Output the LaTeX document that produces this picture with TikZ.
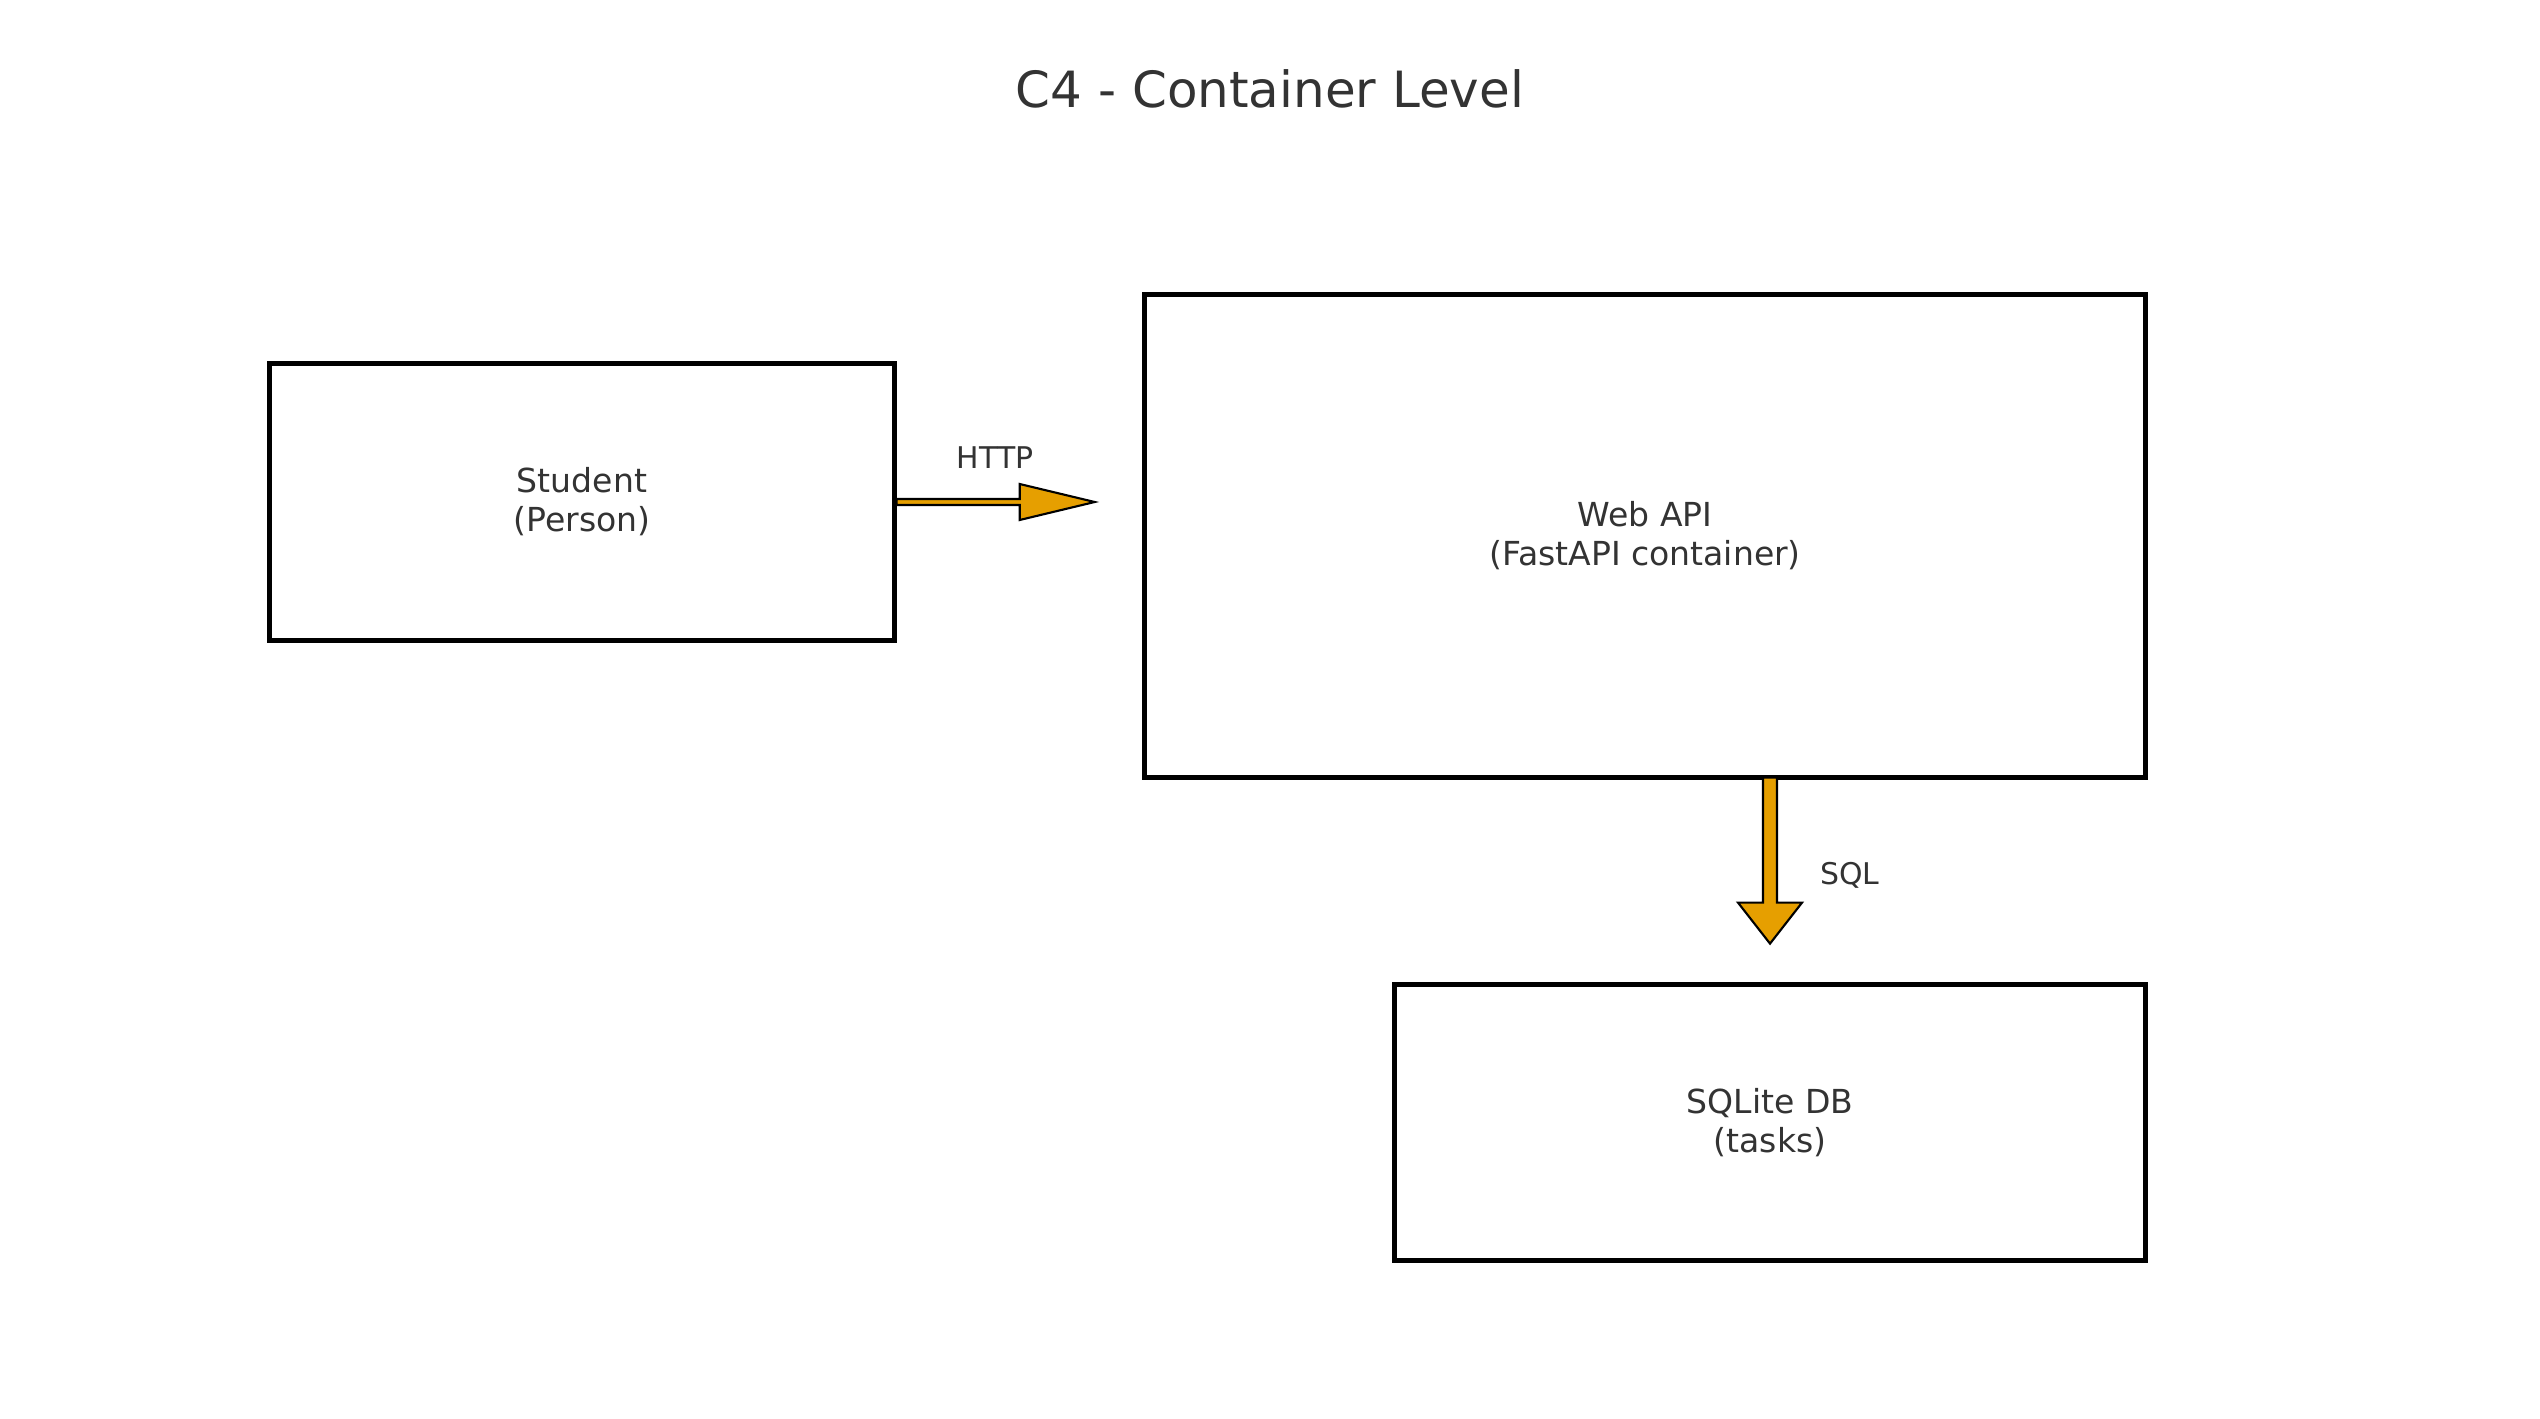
\documentclass[tikz,border=0pt]{standalone}
\usepackage{fontspec}
\setmainfont{DejaVu Sans}
\definecolor{txt}{HTML}{333333}
\definecolor{arr}{HTML}{E69F00}
\begin{document}
\begin{tikzpicture}[x=0.01cm,y=-0.01cm,
  box/.style={draw=black,line width=1.42pt,rectangle,align=center,text=txt,
    font=\fontsize{9.4}{11.1}\selectfont,inner sep=0pt},
  fat/.style={draw=black,fill=arr,line width=0.6pt,line join=miter},
  elabel/.style={text=txt,font=\fontsize{8.5}{10}\selectfont,inner sep=0pt}]
\useasboundingbox[fill=white] (0,0) rectangle (2540,1419);
\node[text=txt,font=\fontsize{14.2}{17}\selectfont] (title) at (1270,89) {C4 - Container Level};
\node[box,minimum width=6.24cm,minimum height=2.76cm] (student) at (582,502) {Student\\(Person)};
\node[box,minimum width=10cm,minimum height=4.82cm] (webapi) at (1645,536) {Web API\\(FastAPI container)};
\node[box,minimum width=7.5cm,minimum height=2.75cm] (db) at (1770,1122.5) {SQLite DB\\(tasks)};
% HTTP arrow
\draw[fat] (student.east) ++(0,-3) -- ++(123,0) -- ++(0,-15) -- ++(75,18) -- ++(-75,18) -- ++(0,-15) -- ++(-123,0) -- cycle;
\node[elabel] (http) at (995,458) {HTTP};
% SQL arrow
\draw[fat] (db.north |- webapi.south) ++(-7,-2) -- ++(0,125) -- ++(-25,0) -- ++(32,41) -- ++(32,-41) -- ++(-25,0) -- ++(0,-125) -- cycle;
\node[elabel] (sql) at (1850,875) {SQL};
\end{tikzpicture}
\end{document}
